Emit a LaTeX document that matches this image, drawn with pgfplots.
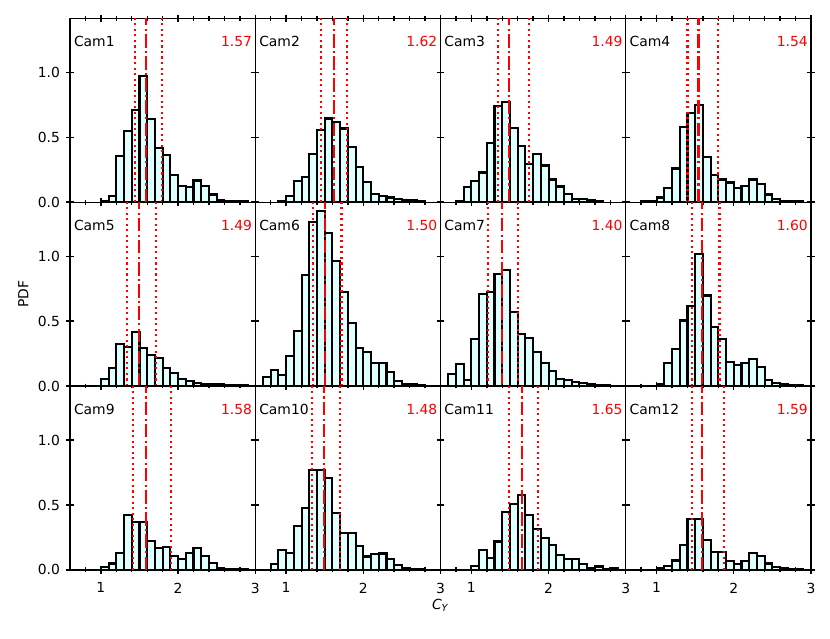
\documentclass[border=0pt]{standalone}
\usepackage{fontspec}
\setmainfont{DejaVu Sans}
\usepackage{pgfplots}
\pgfplotsset{compat=1.18}
\usepgfplotslibrary{groupplots}
\definecolor{lcyan}{HTML}{E0FFFF}

\newcommand\ymx{1.4175}
\newcommand\campanel[6]{%
  \addplot[ybar interval, fill=lcyan, draw=black, line width=1.5pt] coordinates {#1};
  \addplot[red, line width=1.5pt, line cap=butt, dash pattern=on 1.5pt off 2.475pt] coordinates {(#2,0) (#2,\ymx)};
  \addplot[red, line width=1.5pt, line cap=butt, dash pattern=on 9.6pt off 2.4pt on 1.5pt off 2.4pt] coordinates {(#3,0) (#3,\ymx)};
  \addplot[red, line width=1.5pt, line cap=butt, dash pattern=on 1.5pt off 2.475pt] coordinates {(#4,0) (#4,\ymx)};
  \node[anchor=west, inner sep=0pt] at (rel axis cs:0.02,0.873) {Cam#5};
  \node[anchor=east, inner sep=0pt, text=red] at (rel axis cs:0.984,0.873) {#6};
}

\begin{document}
\begin{tikzpicture}
\begin{groupplot}[
  group style={group size=4 by 3, horizontal sep=0pt, vertical sep=0pt,
    xticklabels at=edge bottom, yticklabels at=edge left},
  width=133.3pt, height=132.3pt, scale only axis,
  xmin=0.6, xmax=3, ymin=0, ymax=\ymx,
  xtick={1,2,3}, ytick={0,0.5,1},
  tick align=center, major tick length=5.5pt,
  tick style={black, line width=1pt},
  axis line style={line width=0.9pt},
  minor xtick={0.8,1.2,1.4,1.6,1.8,2.2,2.4,2.6,2.8},
  minor tick length=3.5pt,
  /pgf/number format/assume math mode=true,
  yticklabel style={/pgf/number format/fixed, /pgf/number format/fixed zerofill, /pgf/number format/precision=1, xshift=-1pt},
  xticklabel style={/pgf/number format/fixed, /pgf/number format/precision=0, yshift=-3pt},
  tick label style={font=\fontsize{10}{12}\selectfont},
  label style={font=\fontsize{10}{12}\selectfont},
]
\nextgroupplot
\campanel{(1.0,0.01) (1.1,0.049) (1.2,0.355) (1.3,0.55) (1.4,0.71) (1.5,0.974) (1.6,0.638) (1.7,0.416) (1.8,0.362) (1.9,0.213) (2.0,0.123) (2.1,0.118) (2.2,0.167) (2.3,0.123) (2.4,0.059) (2.5,0.018) (2.6,0.01) (2.7,0.01) (2.8,0.008) (2.9,0)}{1.44}{1.589}{1.797}{1}{1.57}
\nextgroupplot
\campanel{(0.9,0.008) (1.0,0.046) (1.1,0.162) (1.2,0.193) (1.3,0.375) (1.4,0.558) (1.5,0.645) (1.6,0.617) (1.7,0.568) (1.8,0.424) (1.9,0.27) (2.0,0.157) (2.1,0.062) (2.2,0.049) (2.3,0.036) (2.4,0.026) (2.5,0.018) (2.6,0.013) (2.7,0.008) (2.8,0)}{1.448}{1.616}{1.793}{2}{1.62}
\nextgroupplot
\campanel{(0.8,0.01) (0.9,0.118) (1.0,0.162) (1.1,0.229) (1.2,0.455) (1.3,0.745) (1.4,0.774) (1.5,0.573) (1.6,0.432) (1.7,0.296) (1.8,0.375) (1.9,0.283) (2.0,0.175) (2.1,0.121) (2.2,0.064) (2.3,0.028) (2.4,0.028) (2.5,0.013) (2.6,0.008) (2.7,0)}{1.343}{1.489}{1.747}{3}{1.49}
\nextgroupplot
\campanel{(0.8,0.005) (0.9,0.005) (1.0,0.036) (1.1,0.108) (1.2,0.26) (1.3,0.578) (1.4,0.686) (1.5,0.75) (1.6,0.347) (1.7,0.211) (1.8,0.175) (1.9,0.152) (2.0,0.111) (2.1,0.126) (2.2,0.175) (2.3,0.139) (2.4,0.059) (2.5,0.023) (2.6,0.01) (2.7,0.008) (2.8,0.005) (2.9,0)}{1.40}{1.543}{1.793}{4}{1.54}
\nextgroupplot[ylabel={PDF}]
\campanel{(1.0,0.057) (1.1,0.139) (1.2,0.322) (1.3,0.299) (1.4,0.418) (1.5,0.291) (1.6,0.24) (1.7,0.214) (1.8,0.139) (1.9,0.1) (2.0,0.057) (2.1,0.036) (2.2,0.023) (2.3,0.018) (2.4,0.015) (2.5,0.013) (2.6,0.01) (2.7,0.01) (2.8,0.008) (2.9,0)}{1.335}{1.496}{1.717}{5}{1.49}
\nextgroupplot
\campanel{(0.7,0.07) (0.8,0.121) (0.9,0.082) (1.0,0.232) (1.1,0.425) (1.2,0.858) (1.3,1.263) (1.4,1.35) (1.5,1.183) (1.6,0.966) (1.7,0.724) (1.8,0.485) (1.9,0.294) (2.0,0.26) (2.1,0.175) (2.2,0.175) (2.3,0.108) (2.4,0.041) (2.5,0.018) (2.6,0.013) (2.7,0.01) (2.8,0)}{1.343}{1.50}{1.717}{6}{1.50}
\nextgroupplot
\campanel{(0.7,0.09) (0.8,0.173) (0.9,0.044) (1.0,0.366) (1.1,0.709) (1.2,0.727) (1.3,0.866) (1.4,0.892) (1.5,0.57) (1.6,0.402) (1.7,0.369) (1.8,0.26) (1.9,0.178) (2.0,0.116) (2.1,0.052) (2.2,0.044) (2.3,0.031) (2.4,0.023) (2.5,0.015) (2.6,0.01) (2.7,0.008) (2.8,0)}{1.216}{1.397}{1.603}{7}{1.40}
\nextgroupplot
\campanel{(1.0,0.018) (1.1,0.178) (1.2,0.289) (1.3,0.505) (1.4,0.616) (1.5,1.018) (1.6,0.698) (1.7,0.456) (1.8,0.361) (1.9,0.183) (2.0,0.165) (2.1,0.175) (2.2,0.211) (2.3,0.147) (2.4,0.049) (2.5,0.026) (2.6,0.015) (2.7,0.01) (2.8,0.008) (2.9,0)}{1.455}{1.592}{1.815}{8}{1.60}
\nextgroupplot
\campanel{(1.0,0.02) (1.1,0.049) (1.2,0.13) (1.3,0.42) (1.4,0.37) (1.5,0.37) (1.6,0.22) (1.7,0.167) (1.8,0.174) (1.9,0.105) (2.0,0.087) (2.1,0.13) (2.2,0.167) (2.3,0.105) (2.4,0.05) (2.5,0.018) (2.6,0.008) (2.7,0.008) (2.8,0.008) (2.9,0)}{1.41}{1.59}{1.91}{9}{1.58}
\nextgroupplot[xlabel={\textit{C}\textsubscript{\textit{Y}}}, xlabel style={at={(rel axis cs:1,0)}, anchor=north, inner sep=0pt, yshift=-20.7pt}]
\campanel{(0.8,0.046) (0.9,0.154) (1.0,0.128) (1.1,0.336) (1.2,0.474) (1.3,0.772) (1.4,0.772) (1.5,0.708) (1.6,0.438) (1.7,0.287) (1.8,0.287) (1.9,0.182) (2.0,0.103) (2.1,0.12) (2.2,0.126) (2.3,0.087) (2.4,0.038) (2.5,0.018) (2.6,0.008) (2.7,0.005) (2.8,0)}{1.335}{1.49}{1.696}{10}{1.48}
\nextgroupplot
\campanel{(1.0,0.028) (1.1,0.152) (1.2,0.093) (1.3,0.219) (1.4,0.443) (1.5,0.51) (1.6,0.58) (1.7,0.423) (1.8,0.314) (1.9,0.245) (2.0,0.193) (2.1,0.116) (2.2,0.082) (2.3,0.082) (2.4,0.044) (2.5,0.018) (2.6,0.026) (2.7,0.008) (2.8,0.013) (2.9,0)}{1.487}{1.655}{1.866}{11}{1.65}
\nextgroupplot
\campanel{(1.0,0.015) (1.1,0.031) (1.2,0.072) (1.3,0.193) (1.4,0.394) (1.5,0.389) (1.6,0.232) (1.7,0.139) (1.8,0.139) (1.9,0.067) (2.0,0.044) (2.1,0.07) (2.2,0.129) (2.3,0.106) (2.4,0.049) (2.5,0.023) (2.6,0.015) (2.7,0.01) (2.8,0.008) (2.9,0)}{1.459}{1.592}{1.876}{12}{1.59}
\end{groupplot}
\pgfresetboundingbox
\path[use as bounding box] ([xshift=-50.4pt,yshift=13.2pt]group c1r1.north west) rectangle ([xshift=13.7pt,yshift=-49.5pt]group c4r3.south east);
\end{tikzpicture}
\end{document}
